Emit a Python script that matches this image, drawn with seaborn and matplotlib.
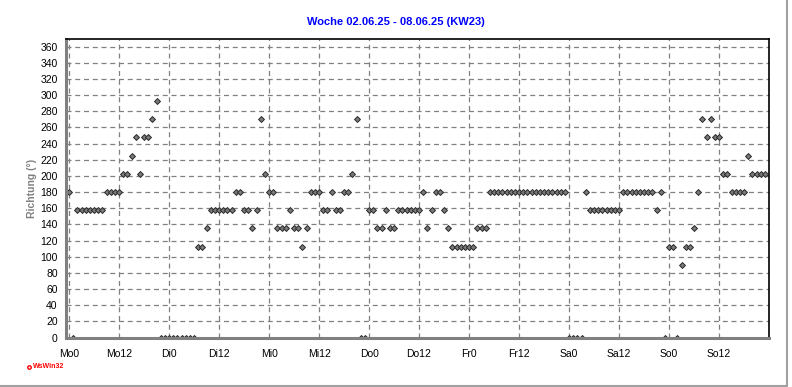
import numpy as np
import pandas as pd
import matplotlib
matplotlib.use("Agg")
import matplotlib.pyplot as plt
from matplotlib.lines import Line2D
from matplotlib.ticker import FixedLocator
import seaborn as sns

# hourly wind direction (degrees), one list per day, hour 0..23
mo = [180, 0, 157.5, 157.5, 157.5, 157.5, 157.5, 157.5, 157.5, 180, 180, 180,
      180, 202.5, 202.5, 225, 247.5, 202.5, 247.5, 247.5, 270, 292.5, 0, 0]
di = [0, 0, 0, 0, 0, 0, 0, 112.5, 112.5, 135, 157.5, 157.5,
      157.5, 157.5, 157.5, 157.5, 180, 180, 157.5, 157.5, 135, 157.5, 270, 202.5]
mi = [180, 180, 135, 135, 135, 157.5, 135, 135, 112.5, 135, 180, 180,
      180, 157.5, 157.5, 180, 157.5, 157.5, 180, 180, 202.5, 270, 0, 0]
do = [157.5, 157.5, 135, 135, 157.5, 135, 135, 157.5, 157.5, 157.5, 157.5, 157.5,
      157.5, 180, 135, 157.5, 180, 180, 157.5, 135, 112.5, 112.5, 112.5, 112.5]
fr = [112.5, 112.5, 135, 135, 135, 180, 180, 180, 180, 180, 180, 180,
      180, 180, 180, 180, 180, 180, 180, 180, 180, 180, 180, 180]
sa = [0, 0, 0, 0, 180, 157.5, 157.5, 157.5, 157.5, 157.5, 157.5, 157.5,
      157.5, 180, 180, 180, 180, 180, 180, 180, 180, 157.5, 180, 0]
so = [112.5, 112.5, 0, 90, 112.5, 112.5, 135, 180, 270, 247.5, 270, 247.5,
      247.5, 202.5, 202.5, 180, 180, 180, 180, 225, 202.5, 202.5, 202.5, 202.5]

tick_labels = ["Mo0", "Mo12", "Di0", "Di12", "Mi0", "Mi12", "Do0", "Do12",
               "Fr0", "Fr12", "Sa0", "Sa12", "So0", "So12"]
y_ticks = list(range(0, 361, 20))
title = "Woche 02.06.25 - 08.06.25 (KW23)"

direction = mo + di + mi + do + fr + sa + so
df = pd.DataFrame({"hour": np.arange(len(direction)), "dir": direction})

sns.set_style("white")
plt.rcParams["font.family"] = ["Liberation Sans", "DejaVu Sans"]

fig = plt.figure(figsize=(7.92, 3.87), dpi=100)
ax = fig.add_axes([66 / 792, (387 - 337.5) / 387, (769 - 66) / 792, 299 / 387])

sns.scatterplot(data=df, x="hour", y="dir", ax=ax, marker="D", s=9,
                color="#7a7a7a", edgecolor="#2a2a2a", linewidth=0.7,
                legend=False, zorder=2)

ax.set_xlim(-0.75, 168)
ax.set_ylim(0, 370)
ax.set_yticks(y_ticks)
ax.set_yticklabels([str(v) for v in y_ticks])
ax.xaxis.set_major_locator(FixedLocator(np.arange(0, 168, 12)))
ax.set_xticklabels(tick_labels)
ax.xaxis.set_minor_locator(FixedLocator([h for h in range(0, 169, 3) if h % 12]))

ax.grid(True, which="major", color="#808080", linestyle=(0, (4, 3)), linewidth=0.9)
ax.set_axisbelow(True)

ax.tick_params(axis="y", which="major", direction="out", length=4, width=1,
               color="#808080", labelsize=7.5, labelcolor="black", pad=2)
ax.tick_params(axis="x", which="major", direction="out", length=4, width=1,
               color="#808080", labelsize=7.5, labelcolor="black", pad=4)
ax.tick_params(axis="x", which="minor", direction="out", length=3, width=1, color="#808080")

for side in ["left", "bottom"]:
    ax.spines[side].set_color("#808080")
    ax.spines[side].set_linewidth(2.2)
for side in ["top", "right"]:
    ax.spines[side].set_color("black")
    ax.spines[side].set_linewidth(1.2)

ax.set_xlabel("")
ax.set_ylabel("Richtung (°)", fontsize=7.5, fontweight="bold", color="#808080", labelpad=2)

fig.text(396 / 792, 1 - 22 / 387, title, ha="center", va="center",
         fontsize=8, fontweight="bold", color="#0000ff")

# footer mark
fig.text(33 / 792, 1 - 367 / 387, "WsWin32", ha="left", va="center",
         fontsize=5, fontweight="bold", color="#ff0000")
fig.add_artist(Line2D([29 / 792], [1 - 367 / 387], marker="o", markersize=2.5,
                      markerfacecolor="white", markeredgecolor="#ff0000",
                      markeredgewidth=1, transform=fig.transFigure))

# panel frame (right and bottom edges)
fig.add_artist(Line2D([0, 787 / 792], [1 - 385.5 / 387] * 2, color="#a0a0a0",
                      linewidth=1.5, transform=fig.transFigure))
fig.add_artist(Line2D([787 / 792] * 2, [1 - 385.5 / 387, 1], color="#a0a0a0",
                      linewidth=1.5, transform=fig.transFigure))

fig.savefig("out.png", dpi=100)
